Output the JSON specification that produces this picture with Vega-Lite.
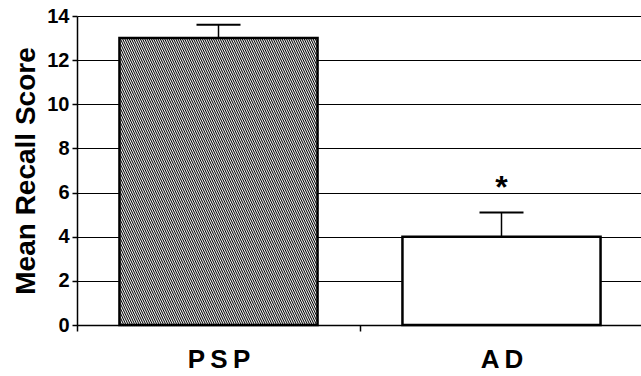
{
  "$schema": "https://vega.github.io/schema/vega-lite/v6.json",
  "width": 566,
  "height": 309,
  "autosize": {"type": "none"},
  "padding": {"left": 77, "top": 16, "right": 0, "bottom": 51},
  "background": "white",
  "config": {
    "view": {"stroke": null},
    "font": "Liberation Sans",
    "axisY": {
      "grid": true, "gridColor": "black", "gridWidth": 1, "gridOpacity": 1,
      "domainColor": "black", "domainWidth": 1.5,
      "tickColor": "black", "tickSize": 5, "tickWidth": 1.5,
      "labelFont": "Liberation Sans", "labelFontSize": 20, "labelFontWeight": "bold", "labelColor": "black", "labelPadding": 3,
      "titleFont": "Liberation Sans", "titleFontSize": 28, "titleFontWeight": "bold", "titleColor": "black", "titlePadding": 6
    },
    "axisX": {
      "grid": false,
      "domainColor": "black", "domainWidth": 1.5,
      "tickColor": "black", "tickSize": 6, "tickWidth": 1.5, "tickBand": "extent",
      "labelFont": "Liberation Sans", "labelFontSize": 26, "labelFontWeight": "bold", "labelColor": "black", "labelAngle": 0, "labelPadding": 15
    }
  },
  "data": {
    "values": [
      {"group": "PSP", "mean": 13, "upper": 13.6, "sig": ""},
      {"group": "AD", "mean": 4, "upper": 5.1, "sig": "*"}
    ]
  },
  "encoding": {
    "x": {
      "field": "group", "type": "nominal", "sort": ["PSP", "AD"], "title": null,
      "scale": {"paddingInner": 0, "paddingOuter": 0},
      "axis": {"labelExpr": "join(split(datum.label, ''), '\u2009')"}
    }
  },
  "layer": [
    {
      "transform": [{"filter": "datum.group === 'PSP'"}],
      "mark": {
        "type": "bar", "width": {"band": 0.7}, "stroke": "black", "strokeWidth": 2.5,
        "fill": {
          "gradient": "linear", "x1": 0, "y1": 1, "x2": 1.262, "y2": 0.1287,
          "stops": [
            {"offset":0,"color":"#000"},{"offset":0.003,"color":"#fff"},{"offset":0.006,"color":"#000"},{"offset":0.009,"color":"#fff"},{"offset":0.012,"color":"#000"},{"offset":0.015,"color":"#fff"},{"offset":0.018,"color":"#000"},{"offset":0.021,"color":"#fff"},{"offset":0.024,"color":"#000"},{"offset":0.027,"color":"#fff"},
            {"offset":0.03,"color":"#000"},{"offset":0.033,"color":"#fff"},{"offset":0.036,"color":"#000"},{"offset":0.039,"color":"#fff"},{"offset":0.042,"color":"#000"},{"offset":0.045,"color":"#fff"},{"offset":0.048,"color":"#000"},{"offset":0.051,"color":"#fff"},{"offset":0.054,"color":"#000"},{"offset":0.057,"color":"#fff"},
            {"offset":0.06,"color":"#000"},{"offset":0.063,"color":"#fff"},{"offset":0.066,"color":"#000"},{"offset":0.069,"color":"#fff"},{"offset":0.072,"color":"#000"},{"offset":0.075,"color":"#fff"},{"offset":0.078,"color":"#000"},{"offset":0.081,"color":"#fff"},{"offset":0.084,"color":"#000"},{"offset":0.087,"color":"#fff"},
            {"offset":0.09,"color":"#000"},{"offset":0.093,"color":"#fff"},{"offset":0.096,"color":"#000"},{"offset":0.099,"color":"#fff"},{"offset":0.102,"color":"#000"},{"offset":0.105,"color":"#fff"},{"offset":0.108,"color":"#000"},{"offset":0.111,"color":"#fff"},{"offset":0.114,"color":"#000"},{"offset":0.117,"color":"#fff"},
            {"offset":0.12,"color":"#000"},{"offset":0.123,"color":"#fff"},{"offset":0.126,"color":"#000"},{"offset":0.129,"color":"#fff"},{"offset":0.132,"color":"#000"},{"offset":0.135,"color":"#fff"},{"offset":0.138,"color":"#000"},{"offset":0.141,"color":"#fff"},{"offset":0.144,"color":"#000"},{"offset":0.147,"color":"#fff"},
            {"offset":0.15,"color":"#000"},{"offset":0.153,"color":"#fff"},{"offset":0.156,"color":"#000"},{"offset":0.159,"color":"#fff"},{"offset":0.162,"color":"#000"},{"offset":0.165,"color":"#fff"},{"offset":0.168,"color":"#000"},{"offset":0.171,"color":"#fff"},{"offset":0.174,"color":"#000"},{"offset":0.177,"color":"#fff"},
            {"offset":0.18,"color":"#000"},{"offset":0.183,"color":"#fff"},{"offset":0.186,"color":"#000"},{"offset":0.189,"color":"#fff"},{"offset":0.192,"color":"#000"},{"offset":0.195,"color":"#fff"},{"offset":0.198,"color":"#000"},{"offset":0.201,"color":"#fff"},{"offset":0.204,"color":"#000"},{"offset":0.207,"color":"#fff"},
            {"offset":0.21,"color":"#000"},{"offset":0.213,"color":"#fff"},{"offset":0.216,"color":"#000"},{"offset":0.219,"color":"#fff"},{"offset":0.222,"color":"#000"},{"offset":0.225,"color":"#fff"},{"offset":0.228,"color":"#000"},{"offset":0.231,"color":"#fff"},{"offset":0.234,"color":"#000"},{"offset":0.237,"color":"#fff"},
            {"offset":0.24,"color":"#000"},{"offset":0.243,"color":"#fff"},{"offset":0.246,"color":"#000"},{"offset":0.249,"color":"#fff"},{"offset":0.252,"color":"#000"},{"offset":0.255,"color":"#fff"},{"offset":0.258,"color":"#000"},{"offset":0.261,"color":"#fff"},{"offset":0.264,"color":"#000"},{"offset":0.267,"color":"#fff"},
            {"offset":0.27,"color":"#000"},{"offset":0.273,"color":"#fff"},{"offset":0.276,"color":"#000"},{"offset":0.279,"color":"#fff"},{"offset":0.282,"color":"#000"},{"offset":0.285,"color":"#fff"},{"offset":0.288,"color":"#000"},{"offset":0.291,"color":"#fff"},{"offset":0.294,"color":"#000"},{"offset":0.297,"color":"#fff"},
            {"offset":0.3,"color":"#000"},{"offset":0.303,"color":"#fff"},{"offset":0.306,"color":"#000"},{"offset":0.309,"color":"#fff"},{"offset":0.312,"color":"#000"},{"offset":0.315,"color":"#fff"},{"offset":0.318,"color":"#000"},{"offset":0.321,"color":"#fff"},{"offset":0.324,"color":"#000"},{"offset":0.327,"color":"#fff"},
            {"offset":0.33,"color":"#000"},{"offset":0.333,"color":"#fff"},{"offset":0.336,"color":"#000"},{"offset":0.339,"color":"#fff"},{"offset":0.342,"color":"#000"},{"offset":0.345,"color":"#fff"},{"offset":0.348,"color":"#000"},{"offset":0.351,"color":"#fff"},{"offset":0.354,"color":"#000"},{"offset":0.357,"color":"#fff"},
            {"offset":0.36,"color":"#000"},{"offset":0.363,"color":"#fff"},{"offset":0.366,"color":"#000"},{"offset":0.369,"color":"#fff"},{"offset":0.372,"color":"#000"},{"offset":0.375,"color":"#fff"},{"offset":0.378,"color":"#000"},{"offset":0.381,"color":"#fff"},{"offset":0.384,"color":"#000"},{"offset":0.387,"color":"#fff"},
            {"offset":0.39,"color":"#000"},{"offset":0.393,"color":"#fff"},{"offset":0.396,"color":"#000"},{"offset":0.399,"color":"#fff"},{"offset":0.402,"color":"#000"},{"offset":0.405,"color":"#fff"},{"offset":0.408,"color":"#000"},{"offset":0.411,"color":"#fff"},{"offset":0.414,"color":"#000"},{"offset":0.417,"color":"#fff"},
            {"offset":0.42,"color":"#000"},{"offset":0.423,"color":"#fff"},{"offset":0.426,"color":"#000"},{"offset":0.429,"color":"#fff"},{"offset":0.432,"color":"#000"},{"offset":0.435,"color":"#fff"},{"offset":0.438,"color":"#000"},{"offset":0.441,"color":"#fff"},{"offset":0.444,"color":"#000"},{"offset":0.447,"color":"#fff"},
            {"offset":0.45,"color":"#000"},{"offset":0.453,"color":"#fff"},{"offset":0.456,"color":"#000"},{"offset":0.459,"color":"#fff"},{"offset":0.462,"color":"#000"},{"offset":0.465,"color":"#fff"},{"offset":0.468,"color":"#000"},{"offset":0.471,"color":"#fff"},{"offset":0.474,"color":"#000"},{"offset":0.477,"color":"#fff"},
            {"offset":0.48,"color":"#000"},{"offset":0.483,"color":"#fff"},{"offset":0.486,"color":"#000"},{"offset":0.489,"color":"#fff"},{"offset":0.492,"color":"#000"},{"offset":0.495,"color":"#fff"},{"offset":0.498,"color":"#000"},{"offset":0.501,"color":"#fff"},{"offset":0.504,"color":"#000"},{"offset":0.507,"color":"#fff"},
            {"offset":0.51,"color":"#000"},{"offset":0.513,"color":"#fff"},{"offset":0.516,"color":"#000"},{"offset":0.519,"color":"#fff"},{"offset":0.522,"color":"#000"},{"offset":0.525,"color":"#fff"},{"offset":0.528,"color":"#000"},{"offset":0.531,"color":"#fff"},{"offset":0.534,"color":"#000"},{"offset":0.537,"color":"#fff"},
            {"offset":0.54,"color":"#000"},{"offset":0.543,"color":"#fff"},{"offset":0.546,"color":"#000"},{"offset":0.549,"color":"#fff"},{"offset":0.552,"color":"#000"},{"offset":0.555,"color":"#fff"},{"offset":0.558,"color":"#000"},{"offset":0.561,"color":"#fff"},{"offset":0.564,"color":"#000"},{"offset":0.567,"color":"#fff"},
            {"offset":0.57,"color":"#000"},{"offset":0.573,"color":"#fff"},{"offset":0.576,"color":"#000"},{"offset":0.579,"color":"#fff"},{"offset":0.582,"color":"#000"},{"offset":0.585,"color":"#fff"},{"offset":0.588,"color":"#000"},{"offset":0.591,"color":"#fff"},{"offset":0.594,"color":"#000"},{"offset":0.597,"color":"#fff"},
            {"offset":0.6,"color":"#000"},{"offset":0.603,"color":"#fff"},{"offset":0.606,"color":"#000"},{"offset":0.609,"color":"#fff"},{"offset":0.612,"color":"#000"},{"offset":0.615,"color":"#fff"},{"offset":0.618,"color":"#000"},{"offset":0.621,"color":"#fff"},{"offset":0.624,"color":"#000"},{"offset":0.627,"color":"#fff"},
            {"offset":0.63,"color":"#000"},{"offset":0.633,"color":"#fff"},{"offset":0.636,"color":"#000"},{"offset":0.639,"color":"#fff"},{"offset":0.642,"color":"#000"},{"offset":0.645,"color":"#fff"},{"offset":0.648,"color":"#000"},{"offset":0.651,"color":"#fff"},{"offset":0.654,"color":"#000"},{"offset":0.657,"color":"#fff"},
            {"offset":0.66,"color":"#000"},{"offset":0.663,"color":"#fff"},{"offset":0.666,"color":"#000"},{"offset":0.669,"color":"#fff"},{"offset":0.672,"color":"#000"},{"offset":0.675,"color":"#fff"},{"offset":0.678,"color":"#000"},{"offset":0.681,"color":"#fff"},{"offset":0.684,"color":"#000"},{"offset":0.687,"color":"#fff"},
            {"offset":0.69,"color":"#000"},{"offset":0.693,"color":"#fff"},{"offset":0.696,"color":"#000"},{"offset":0.699,"color":"#fff"},{"offset":0.702,"color":"#000"},{"offset":0.705,"color":"#fff"},{"offset":0.708,"color":"#000"},{"offset":0.711,"color":"#fff"},{"offset":0.714,"color":"#000"},{"offset":0.717,"color":"#fff"},
            {"offset":0.72,"color":"#000"},{"offset":0.723,"color":"#fff"},{"offset":0.726,"color":"#000"},{"offset":0.729,"color":"#fff"},{"offset":0.732,"color":"#000"},{"offset":0.735,"color":"#fff"},{"offset":0.738,"color":"#000"},{"offset":0.741,"color":"#fff"},{"offset":0.744,"color":"#000"},{"offset":0.747,"color":"#fff"},
            {"offset":0.75,"color":"#000"},{"offset":0.753,"color":"#fff"},{"offset":0.756,"color":"#000"},{"offset":0.759,"color":"#fff"},{"offset":0.762,"color":"#000"},{"offset":0.765,"color":"#fff"},{"offset":0.768,"color":"#000"},{"offset":0.771,"color":"#fff"},{"offset":0.774,"color":"#000"},{"offset":0.777,"color":"#fff"},
            {"offset":0.78,"color":"#000"},{"offset":0.783,"color":"#fff"},{"offset":0.786,"color":"#000"},{"offset":0.789,"color":"#fff"},{"offset":0.792,"color":"#000"},{"offset":0.795,"color":"#fff"},{"offset":0.798,"color":"#000"},{"offset":0.801,"color":"#fff"},{"offset":0.804,"color":"#000"},{"offset":0.807,"color":"#fff"},
            {"offset":0.81,"color":"#000"},{"offset":0.813,"color":"#fff"},{"offset":0.816,"color":"#000"},{"offset":0.819,"color":"#fff"},{"offset":0.822,"color":"#000"},{"offset":0.825,"color":"#fff"},{"offset":0.828,"color":"#000"},{"offset":0.831,"color":"#fff"},{"offset":0.834,"color":"#000"},{"offset":0.837,"color":"#fff"},
            {"offset":0.84,"color":"#000"},{"offset":0.843,"color":"#fff"},{"offset":0.846,"color":"#000"},{"offset":0.849,"color":"#fff"},{"offset":0.852,"color":"#000"},{"offset":0.855,"color":"#fff"},{"offset":0.858,"color":"#000"},{"offset":0.861,"color":"#fff"},{"offset":0.864,"color":"#000"},{"offset":0.867,"color":"#fff"},
            {"offset":0.87,"color":"#000"},{"offset":0.873,"color":"#fff"},{"offset":0.876,"color":"#000"},{"offset":0.879,"color":"#fff"},{"offset":0.882,"color":"#000"},{"offset":0.885,"color":"#fff"},{"offset":0.888,"color":"#000"},{"offset":0.891,"color":"#fff"},{"offset":0.894,"color":"#000"},{"offset":0.897,"color":"#fff"},
            {"offset":0.9,"color":"#000"},{"offset":0.903,"color":"#fff"},{"offset":0.906,"color":"#000"},{"offset":0.909,"color":"#fff"},{"offset":0.912,"color":"#000"},{"offset":0.915,"color":"#fff"},{"offset":0.918,"color":"#000"},{"offset":0.921,"color":"#fff"},{"offset":0.924,"color":"#000"},{"offset":0.927,"color":"#fff"},
            {"offset":0.93,"color":"#000"},{"offset":0.933,"color":"#fff"},{"offset":0.936,"color":"#000"},{"offset":0.939,"color":"#fff"},{"offset":0.942,"color":"#000"},{"offset":0.945,"color":"#fff"},{"offset":0.948,"color":"#000"},{"offset":0.951,"color":"#fff"},{"offset":0.954,"color":"#000"},{"offset":0.957,"color":"#fff"},
            {"offset":0.96,"color":"#000"},{"offset":0.963,"color":"#fff"},{"offset":0.966,"color":"#000"},{"offset":0.969,"color":"#fff"},{"offset":0.972,"color":"#000"},{"offset":0.975,"color":"#fff"},{"offset":0.978,"color":"#000"},{"offset":0.981,"color":"#fff"},{"offset":0.984,"color":"#000"},{"offset":0.987,"color":"#fff"},
            {"offset":0.99,"color":"#000"},{"offset":0.993,"color":"#fff"},{"offset":0.996,"color":"#000"},{"offset":0.999,"color":"#fff"}
          ]
        }
      },
      "encoding": {
        "y": {
          "field": "mean", "type": "quantitative", "title": "Mean Recall Score",
          "scale": {"domain": [0, 14], "nice": false},
          "axis": {"values": [0, 2, 4, 6, 8, 10, 12, 14]}
        }
      }
    },
    {
      "transform": [{"filter": "datum.group === 'AD'"}],
      "mark": {"type": "bar", "width": {"band": 0.7}, "fill": "white", "stroke": "black", "strokeWidth": 2.5},
      "encoding": {"y": {"field": "mean", "type": "quantitative", "title": "Mean Recall Score"}}
    },
    {
      "mark": {"type": "rule", "color": "black", "strokeWidth": 1.5},
      "encoding": {
        "y": {"field": "mean", "type": "quantitative", "title": "Mean Recall Score"},
        "y2": {"field": "upper"}
      }
    },
    {
      "mark": {"type": "tick", "color": "black", "opacity": 1, "size": 44, "thickness": 2},
      "encoding": {"y": {"field": "upper", "type": "quantitative", "title": "Mean Recall Score"}}
    },
    {
      "mark": {"type": "text", "color": "black", "font": "Liberation Sans", "fontSize": 32, "fontWeight": "bold", "baseline": "alphabetic", "dy": -14},
      "encoding": {
        "y": {"field": "upper", "type": "quantitative", "title": "Mean Recall Score"},
        "text": {"field": "sig"}
      }
    }
  ]
}
